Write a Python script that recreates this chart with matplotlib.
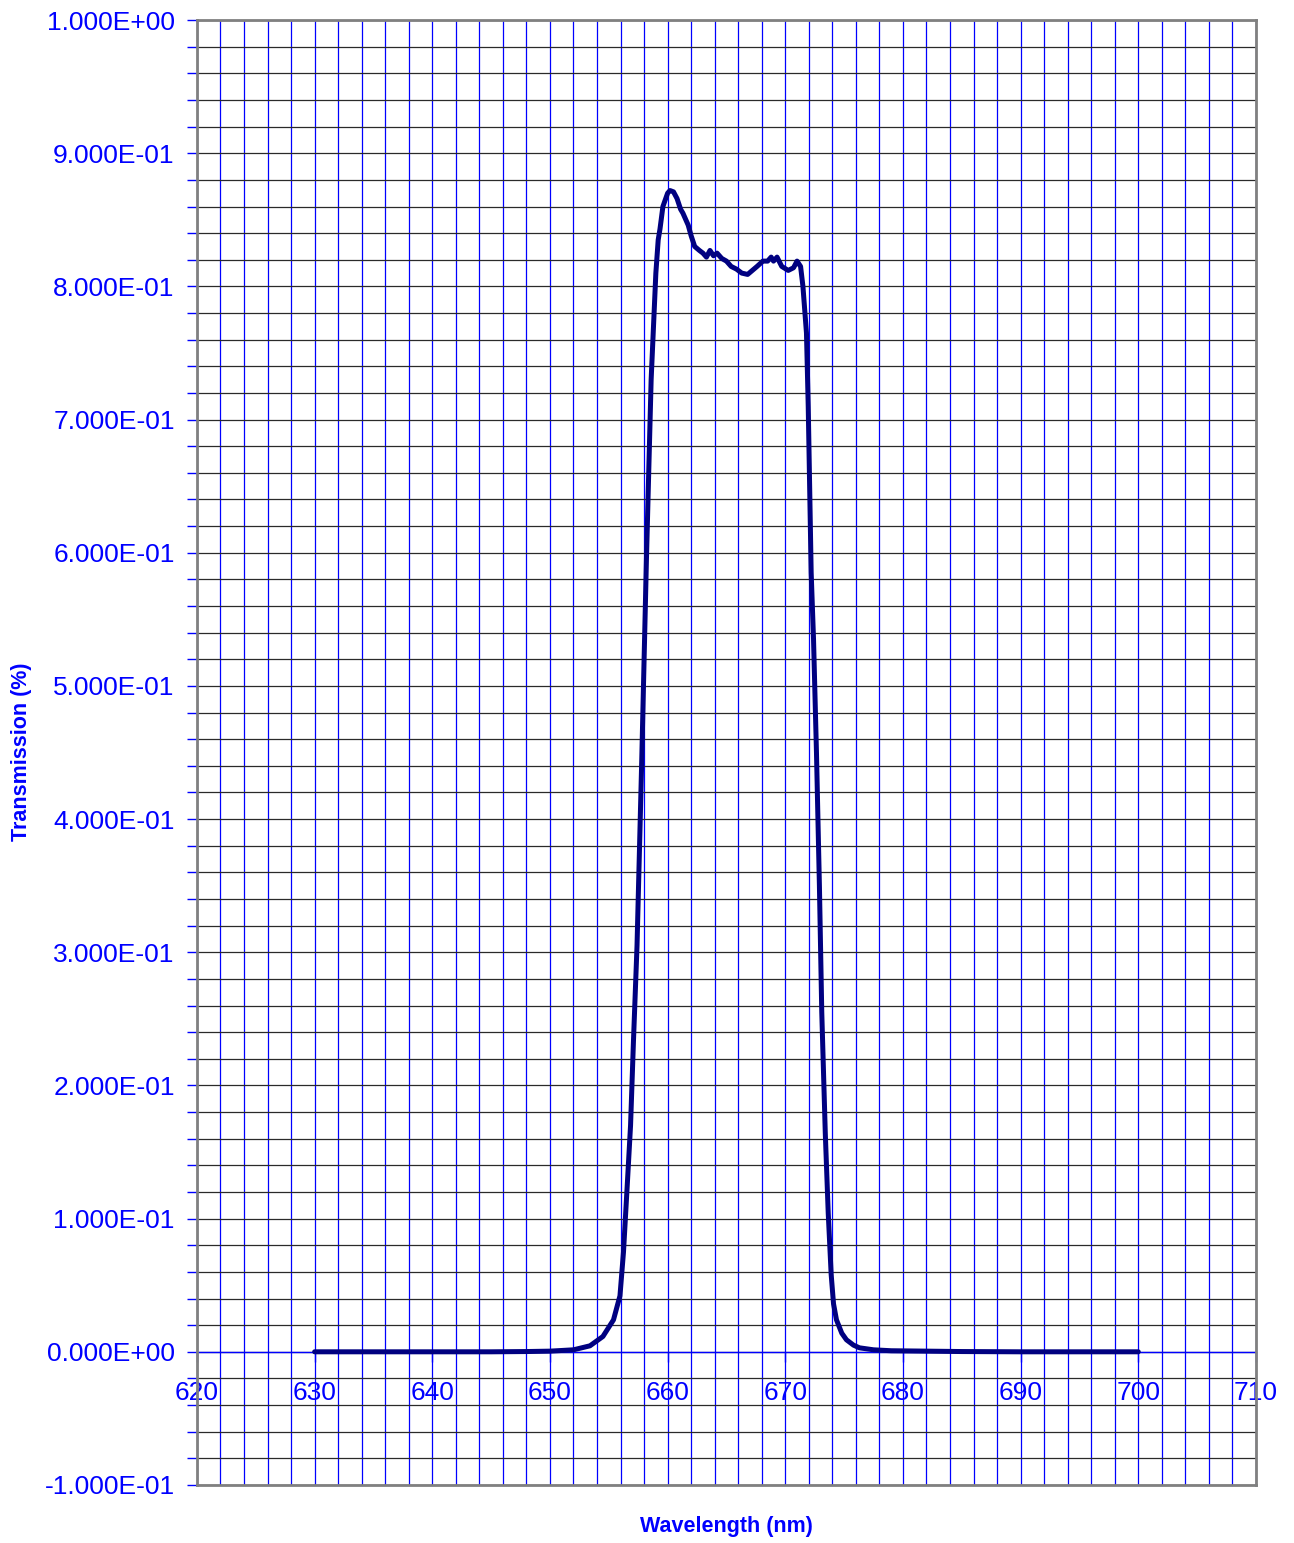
import matplotlib
matplotlib.use("Agg")
import matplotlib.pyplot as plt
from matplotlib.ticker import FuncFormatter, MultipleLocator

plt.rcParams["font.family"] = ["Liberation Sans", "DejaVu Sans"]

# transmission curve (wavelength in nm, fraction)
wavelength = [
    630, 635, 640, 645, 648, 650, 652, 653.4, 654.5, 655.4, 655.95, 656.25,
    656.6, 656.85, 657.1, 657.4, 657.8, 658.2, 658.6, 659.0, 659.2, 659.35,
    659.6, 660.0, 660.2, 660.5, 660.8, 661.1, 661.3, 661.75, 662.0, 662.3,
    662.7, 663.0, 663.3, 663.6, 663.9, 664.2, 664.6, 665.0, 665.4, 665.85,
    666.3, 666.8, 667.2, 667.6, 668.1, 668.5, 668.8, 669.0, 669.3, 669.7,
    670.25, 670.7, 671.0, 671.3, 671.5, 671.8, 671.95, 672.1, 672.2, 672.4,
    672.65, 672.9, 673.1, 673.4, 673.65, 673.9, 674.1, 674.35, 674.8, 675.2,
    675.8, 676.3, 677.5, 679, 685, 690, 700,
]
transmission = [
    0.0, 0.0, 0.0, 0.0, 0.0002, 0.0005, 0.0015, 0.0045, 0.0115, 0.024,
    0.042, 0.075, 0.13, 0.17, 0.234, 0.305, 0.444, 0.595, 0.73, 0.81, 0.835,
    0.843, 0.86, 0.870, 0.872, 0.871, 0.866, 0.858, 0.855, 0.846, 0.838,
    0.830, 0.827, 0.825, 0.822, 0.827, 0.823, 0.825, 0.821, 0.819, 0.815,
    0.813, 0.810, 0.809, 0.812, 0.815, 0.819, 0.819, 0.822, 0.819, 0.822,
    0.815, 0.812, 0.814, 0.819, 0.815, 0.800, 0.765, 0.71, 0.635, 0.585,
    0.535, 0.45, 0.35, 0.255, 0.164, 0.104, 0.058, 0.036, 0.024, 0.014,
    0.009, 0.005, 0.003, 0.0015, 0.0008, 0.0002, 0.0, 0.0,
]

x_range = (620, 710)
y_range = (-0.1, 1.0)

BLUE = "#0000FF"
NAVY = "#000080"

fig = plt.figure(figsize=(12.94, 15.43), dpi=100)
ax = fig.add_axes([0.1522, 0.0376, 0.8184, 0.9494])
ax.set_xlim(*x_range)
ax.set_ylim(*y_range)

# grid: blue verticals every 2 nm, dark horizontals every 0.02
ax.xaxis.set_minor_locator(MultipleLocator(2))
ax.yaxis.set_minor_locator(MultipleLocator(0.02))
ax.grid(which="both", axis="x", color=BLUE, linewidth=0.9)
ax.grid(which="both", axis="y", color="#2a2a2a", linewidth=0.9)
ax.set_axisbelow(True)

ax.plot(wavelength, transmission, color=NAVY, linewidth=3.6,
        solid_capstyle="round", solid_joinstyle="round", zorder=3)

# frame
for side in ("top", "left", "right"):
    ax.spines[side].set_color("#808080")
    ax.spines[side].set_linewidth(2.0)
ax.spines["bottom"].set_position(("data", 0))
ax.spines["bottom"].set_color(BLUE)
ax.spines["bottom"].set_linewidth(1.0)
ax.spines["bottom"].set_zorder(2)
ax.axhline(y_range[0], color="#808080", linewidth=2.0, clip_on=False)

ax.xaxis.set_major_locator(MultipleLocator(10))
ax.tick_params(axis="x", which="major", direction="out", length=7, width=1,
               color=BLUE, labelcolor=BLUE, labelsize=19, pad=14)
ax.tick_params(axis="x", which="minor", length=0)

ax.yaxis.set_major_locator(MultipleLocator(0.1))
ax.yaxis.set_major_formatter(FuncFormatter(
    lambda v, pos: f"{v:.3E}".replace("-0.000", "0.000")))
ax.tick_params(axis="y", which="both", direction="out", length=7, width=1,
               color=BLUE, labelcolor=BLUE, labelsize=19, pad=9)

ax.text(0.5, -0.028, "Wavelength (nm)", transform=ax.transAxes, ha="center",
        va="center", color=BLUE, fontsize=15.5, fontweight="bold")
fig.text(22 / 1294, 1 - 752 / 1543, "Transmission (%)", rotation=90,
         ha="center", va="center", color=BLUE, fontsize=15.5, fontweight="bold")

fig.savefig("out.png", dpi=100)
